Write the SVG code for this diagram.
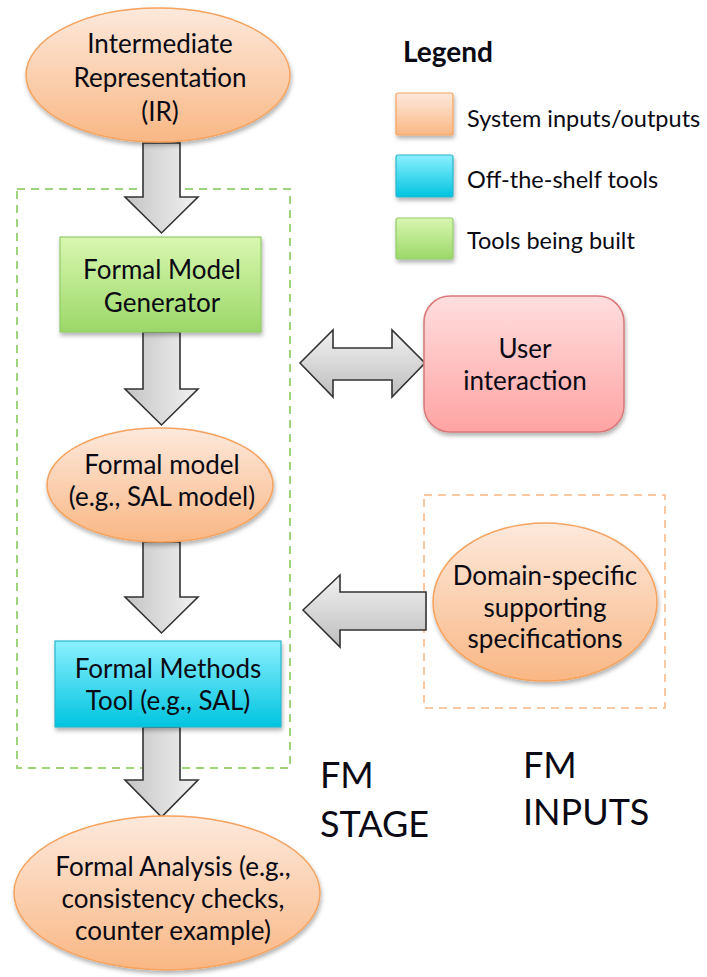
<svg xmlns="http://www.w3.org/2000/svg" width="707" height="977" viewBox="0 0 707 977">
<defs>
<linearGradient id="gOrange" x1="0" y1="0" x2="0" y2="1"><stop offset="0" stop-color="#fde9dc"/><stop offset="1" stop-color="#f9b784"/></linearGradient>
<linearGradient id="gGreen" x1="0" y1="0" x2="0" y2="1"><stop offset="0" stop-color="#d9f7b0"/><stop offset="1" stop-color="#9bd868"/></linearGradient>
<linearGradient id="gBlue" x1="0" y1="0" x2="0" y2="1"><stop offset="0" stop-color="#8cf0ff"/><stop offset="1" stop-color="#00c4df"/></linearGradient>
<linearGradient id="gPink" x1="0" y1="0" x2="0" y2="1"><stop offset="0" stop-color="#ffdede"/><stop offset="1" stop-color="#ffa3a3"/></linearGradient>
<linearGradient id="gArrowV" x1="0" y1="0" x2="1" y2="0"><stop offset="0" stop-color="#c4c4c4"/><stop offset="1" stop-color="#f2f2f2"/></linearGradient>
<linearGradient id="gArrowH" x1="0" y1="0" x2="0" y2="1"><stop offset="0" stop-color="#f2f2f2"/><stop offset="1" stop-color="#bdbdbd"/></linearGradient>
<filter id="sh" x="-10%" y="-10%" width="125%" height="130%"><feDropShadow dx="1" dy="3" stdDeviation="2" flood-color="#000" flood-opacity="0.3"/></filter>
</defs>
<style>
text{font-family:Lato,"Open Sans","Liberation Sans",sans-serif;fill:#0a0a14;text-anchor:middle}
.t{font-size:26px}
.big{font-size:36px;text-anchor:start}
.leg{font-size:23.5px;text-anchor:start}
.oval{fill:url(#gOrange);stroke:#f5a35e;stroke-width:1.5;filter:url(#sh)}
.av{fill:url(#gArrowV);stroke:#333;stroke-width:1.6;stroke-linejoin:miter}
.ah{fill:url(#gArrowH);stroke:#333;stroke-width:1.6;stroke-linejoin:miter}
</style>
<rect id="fm-stage-box" x="17" y="189" width="273" height="579" fill="none" stroke="#9fd47a" stroke-width="2" stroke-dasharray="8,6"/>
<rect id="fm-inputs-box" x="424" y="495" width="241" height="213" fill="none" stroke="#f9c7a0" stroke-width="2" stroke-dasharray="8,6"/>
<g id="connectors">
<path class="av" d="M143,143 H180 V197 H198 L161.5,233 L125,197 H143 Z"/>
<path class="av" d="M143,332 H180 V389 H198 L161.5,425 L125,389 H143 Z"/>
<path class="av" d="M143,542 H180 V597 H198 L161.5,633 L125,597 H143 Z"/>
<path class="av" d="M143,727 H180 V780 H198 L161.5,817 L125,780 H143 Z"/>
<path class="ah" d="M300,363 L333,330 V348 H392 V330 L425,363 L392,397 V380 H333 V397 Z"/>
<path class="ah" d="M303,610 L340,575 V592 H426 V630 H340 V647 Z"/>
</g>
<g id="ir">
<ellipse class="oval" cx="158" cy="75" rx="132" ry="67"/>
<text class="t" x="160" y="53">Intermediate</text>
<text class="t" x="160" y="87">Representation</text>
<text class="t" x="160" y="121">(IR)</text>
</g>
<g id="fmg">
<rect x="60" y="237" width="201" height="95" fill="url(#gGreen)" stroke="#93cc6c" stroke-width="1.2" filter="url(#sh)"/>
<text class="t" x="162" y="279">Formal Model</text>
<text class="t" x="162" y="312">Generator</text>
</g>
<g id="fmodel">
<ellipse class="oval" cx="160" cy="485" rx="113" ry="57"/>
<text class="t" x="162" y="474">Formal model</text>
<text class="t" x="162" y="506">(e.g., SAL model)</text>
</g>
<g id="fmtool">
<rect x="55" y="641" width="226" height="86" fill="url(#gBlue)" stroke="#2ab6cc" stroke-width="1.2" filter="url(#sh)"/>
<text class="t" x="168" y="678">Formal Methods</text>
<text class="t" x="168" y="710">Tool (e.g., SAL)</text>
</g>
<g id="analysis">
<ellipse class="oval" cx="167" cy="893" rx="153" ry="77"/>
<text class="t" x="173" y="876">Formal Analysis (e.g.,</text>
<text class="t" x="173" y="908">consistency checks,</text>
<text class="t" x="173" y="940">counter example)</text>
</g>
<g id="user">
<rect x="424" y="296" width="200" height="136" rx="26" fill="url(#gPink)" stroke="#d9787a" stroke-width="1.5" filter="url(#sh)"/>
<text class="t" x="525" y="358">User</text>
<text class="t" x="525" y="390">interaction</text>
</g>
<g id="domain">
<ellipse class="oval" cx="545" cy="602" rx="112" ry="79"/>
<text class="t" x="545" y="585">Domain-specific</text>
<text class="t" x="545" y="617">supporting</text>
<text class="t" x="545" y="648">specifications</text>
</g>
<g id="labels">
<text class="big" x="320" y="788">FM</text>
<text class="big" x="320" y="837">STAGE</text>
<text class="big" x="523" y="778">FM</text>
<text class="big" x="523" y="825">INPUTS</text>
</g>
<g id="legend">
<text x="403" y="62" style="font-size:28px;font-weight:bold;text-anchor:start">Legend</text>
<rect x="396" y="93" width="57" height="42" rx="2" fill="url(#gOrange)" stroke="#f5a35e" stroke-width="1.2" filter="url(#sh)"/>
<rect x="396" y="155" width="57" height="42" rx="2" fill="url(#gBlue)" stroke="#2ab6cc" stroke-width="1.2" filter="url(#sh)"/>
<rect x="396" y="218" width="57" height="41" rx="2" fill="url(#gGreen)" stroke="#93cc6c" stroke-width="1.2" filter="url(#sh)"/>
<text class="leg" x="467" y="127">System inputs/outputs</text>
<text class="leg" x="467" y="188">Off-the-shelf tools</text>
<text class="leg" x="467" y="249">Tools being built</text>
</g>
</svg>
